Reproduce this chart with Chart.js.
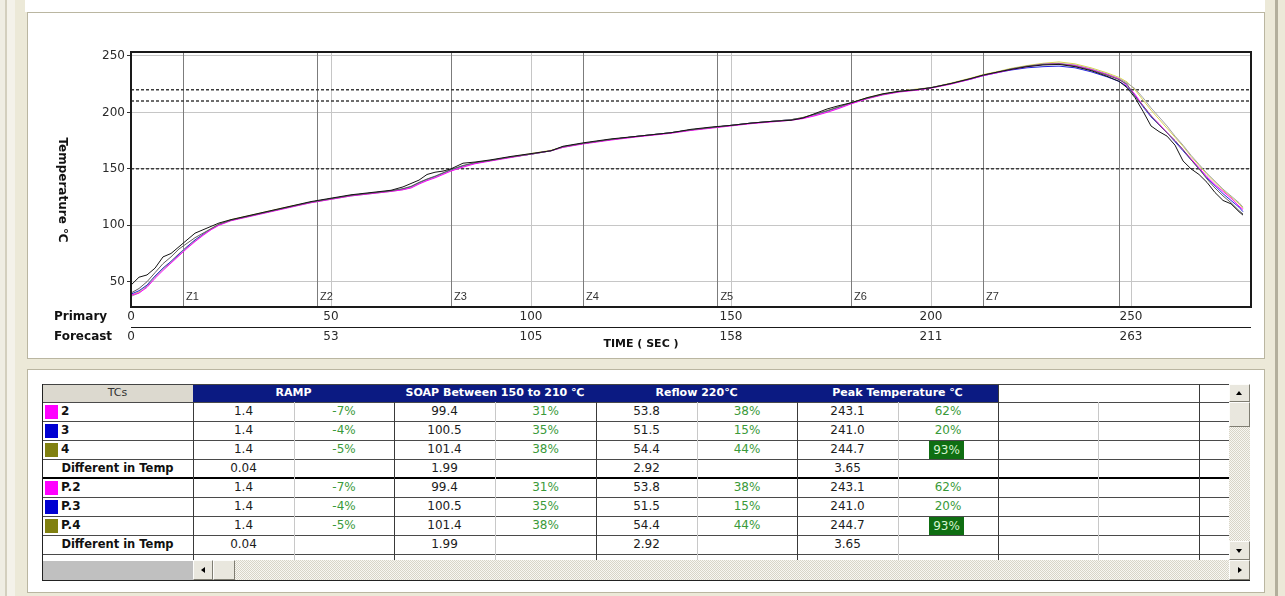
<!DOCTYPE html>
<html>
<head>
<meta charset="utf-8">
<title>Reflow profile</title>
<script src="https://cdn.jsdelivr.net/npm/chart.js"></script>
<style>
  body { margin: 0; width: 1285px; height: 596px; overflow: hidden; position: relative; background: #ece9d8; font-family: 'DejaVu Sans', Verdana, sans-serif; }
  .abs { position: absolute; box-sizing: border-box; }
  .panel { position: absolute; box-sizing: border-box; background: #fff; border: 1px solid #bab6a1; }
  #profile { position: absolute; left: 27px; top: 12px; }
  .cell { position: absolute; box-sizing: border-box; height: 19px; line-height: 19px; font-size: 12px; color: #1c1c1c; text-align: center; white-space: nowrap; overflow: hidden; }
  .btn { position: absolute; box-sizing: border-box; background: #e9e7de; border: 1px solid; border-color: #fdfdfb #7f7d72 #7f7d72 #fdfdfb; }
  .track { position: absolute; background: repeating-conic-gradient(#d8d5c8 0 25%, #f8f7f2 0 50%) 0 0 / 2px 2px; }
</style>
</head>
<body>
<div class="abs" style="left:0;top:0;width:5px;height:596px;background:#efede3"></div>
<div class="abs" style="left:5px;top:0;width:2px;height:596px;background:#d3cfbe"></div>
<div class="abs" style="left:7px;top:0;width:8px;height:596px;background:#f4f2ea"></div>
<div class="abs" style="left:25px;top:0;width:1240px;height:12px;background:#fff"></div>
<div class="abs" style="left:1275px;top:0;width:3px;height:596px;background:#b3af9c"></div>
<div class="panel" style="left:27px;top:12px;width:1238px;height:347px"></div>
<div class="panel" style="left:27px;top:369px;width:1238px;height:224px"></div>
<canvas id="profile" width="1238" height="347"></canvas>
<script>
// time axis (s) shared by every probe trace
const secs = [0,2,4,6,8,10,12,14,16,18,20,22,25,30,35,40,45,50,55,60,65,68,70,72,74,76,78,80,83,86,90,95,100,105,108,113,120,127,135,140,145,150,155,160,165,168,171,174,177,180,184,188,192,196,200,205,210,213,217,220,224,228,232,236,240,244,247,249,251,253,255,257,259,261,263,265,267,269,271,273,275,277,278];

// measured probes
const tc2 = [38,40,45,53,60,66.5,73,79.5,85.5,91,96,100,
  104,108,112,116,120,123,126,128,130,
  131.5,133,136.5,139.5,142,145,148,
  151.5,154.5,157,160,163,166,169,172,
  175.5,178.5,181.5,184,186,188,190,191.5,193,
  194.5,197,200,203.5,207.5,212,215.5,218,219.5,221.5,
  225,229.5,232.5,235.5,238,240.5,242.5,243,241.5,238,
  233.5,229.5,224,216,206,197,190,182,175,167,
  159,151,143,136,130,124,117,114];
const tc3 = [39,42,47,55,62,68,74.5,81,87,92,96.5,100.5,
  104.5,108.5,112.5,116.5,120.5,123.5,126.5,128.5,130.5,
  132,134,137.5,140.5,143,146,149,
  152.5,155,157.5,160.5,163,166,169.5,172.5,
  176,179,182,184.5,186.5,188.5,190.5,192,193.5,
  195,198,201,204.5,208,212.5,216,218.5,220,221.8,
  225.5,229.5,232.5,235.5,237.5,239.5,240.5,241,239.5,236,
  231.5,227.5,223,215,205,196,189,182,174,166,
  158,150,142,135,128,122,116,112];
const tc4 = [38,41,47,55,62,68,75,81,87,92,97,101,
  105,109,113,117,120.5,123.5,126.5,128.5,130.5,
  132,134,137.5,140.5,143,146,149,
  152.5,155.5,157.5,160.5,163.5,166.5,169.5,172.5,
  176,179,182,184.5,186.5,188.5,190.5,192,193.5,
  195.5,198.5,201.5,205,208.5,213,216.5,218.7,220.5,222,
  226,230.5,233.5,236.5,239,241.5,243.5,244.7,243,239.5,
  235,231,227,220,211,202,194,186,178,170,
  161,153,145,138,131,125,119,115];

// predicted probes
const p2 = [37,40,46,54,61,67,73.5,80,86,91.5,96.5,100.5,
  104.5,108.5,112.5,116.5,120,123,126,128,130,
  131.5,133.5,137,140,142.5,145.5,148.5,
  152,155,157.5,160.5,163,166,169,172.5,
  176,179,182,184.5,186.5,188.5,190.5,192,193.5,
  195,197.5,200.5,204,208,212.5,216,218.5,220,221.8,
  225.5,230,233,236,238.5,241,243,243.5,242,238.5,
  234,230,226,221,213,204,196,188,179,171,
  162,154,146,139,132,126,120,116];
const p3 = [40,44,50,58,66,72,79,84,89,93,97,101,
  104.5,108.5,112.5,116.5,120.5,123.5,126.5,128.5,130.5,
  132.5,134.5,138,141,143.5,146.5,149.5,
  153,155.5,157.5,160.5,163,166,169.5,172.5,
  176,179,182,184.5,186.5,188.5,190.5,192,193.5,
  195.5,198.5,201.5,205,208.5,212.5,216,218.5,220,222,
  225.5,230,233,236,238.5,241,242.5,243,241,237.5,
  233,229,225,214,206,197,189,182,175,167,
  158,150,141,133,126,120,113,110];
const p4 = [47,54,56,62,72,75,81,87,93,96,99,102,
  105,109,113,117,121,124,127,129,131,
  134,137,140,145,147,148,150,
  155,156,158,161,163.5,166,170,173,
  176.5,179,182,185,187,188.5,190.5,192,193,
  195,199,203,206,208.5,213,216.5,218.7,220,221.8,
  225.6,230,233,236,238,240.5,242,242.5,240.5,237,
  232,227.5,222,213,201,188,183,179,171,157,
  150,145,138,129,122,119,112,109];

const tempTicks = [50, 100, 150, 200, 250];
const primaryTicks = [0, 50, 100, 150, 200, 250];
const forecastTicks = [0, 53, 105, 158, 211, 263];
const zoneSecs = [13, 46.5, 80, 113, 146.6, 180, 213, 247];
const zoneNames = ['Z1', 'Z2', 'Z3', 'Z4', 'Z5', 'Z6', 'Z7'];
const limitTemps = [150, 210, 220];

// summary table
const tcNames = ['2', '3', '4', 'Different in Temp', 'P.2', 'P.3', 'P.4', 'Different in Temp'];
const groupNames = ['RAMP', 'SOAP Between 150 to 210 ℃', 'Reflow 220℃', 'Peak Temperature ℃'];
const rampRate = ['1.4', '1.4', '1.4', '0.04', '1.4', '1.4', '1.4', '0.04'];
const rampPct = ['-7%', '-4%', '-5%', '', '-7%', '-4%', '-5%', ''];
const soakTime = ['99.4', '100.5', '101.4', '1.99', '99.4', '100.5', '101.4', '1.99'];
const soakPct = ['31%', '35%', '38%', '', '31%', '35%', '38%', ''];
const reflowTime = ['53.8', '51.5', '54.4', '2.92', '53.8', '51.5', '54.4', '2.92'];
const reflowPct = ['38%', '15%', '44%', '', '38%', '15%', '44%', ''];
const peakTemp = ['243.1', '241.0', '244.7', '3.65', '243.1', '241.0', '244.7', '3.65'];
const peakPct = ['62%', '20%', '93%', '', '62%', '20%', '93%', ''];

const swatch = { '2': '#ff00ff', '3': '#0000d2', '4': '#808010' };

// drawn first = on top
const series = [
  { label: 'P.4', data: p4, color: '#141414' },
  { label: 'P.3', data: p3, color: '#5e5e5e' },
  { label: '2', data: tc2, color: '#ff00ff' },
  { label: 'P.2', data: p2, color: '#a2a2a2' },
  { label: '3', data: tc3, color: '#2424e0' },
  { label: '4', data: tc4, color: '#d8d450' }
];

const profileDecor = {
  id: 'profileDecor',
  beforeDatasetsDraw(chart) {
    const { ctx, chartArea: a, scales: { x, y } } = chart;
    ctx.save();
    ctx.strokeStyle = '#7c7c7c';
    ctx.lineWidth = 1;
    zoneSecs.forEach(s => {
      const px = Math.round(x.getPixelForValue(s)) + 0.5;
      ctx.beginPath(); ctx.moveTo(px, a.top); ctx.lineTo(px, a.bottom); ctx.stroke();
    });
    ctx.fillStyle = '#333';
    ctx.font = '11px Arial';
    ctx.textBaseline = 'middle';
    zoneNames.forEach((n, i) => ctx.fillText(n, x.getPixelForValue(zoneSecs[i]) + 3, a.bottom - 10));
    ctx.strokeStyle = '#3c3c3c';
    ctx.lineWidth = 1.5;
    ctx.setLineDash([3, 2]);
    limitTemps.forEach(t => {
      const py = y.getPixelForValue(t);
      ctx.beginPath(); ctx.moveTo(a.left, py); ctx.lineTo(a.right, py); ctx.stroke();
    });
    ctx.restore();
  },
  afterDraw(chart) {
    const { ctx, chartArea: a } = chart;
    ctx.save();
    ctx.strokeStyle = '#1a1a1a';
    ctx.lineWidth = 2;
    ctx.strokeRect(a.left, a.top, a.right - a.left, a.bottom - a.top);
    ctx.lineWidth = 1;
    ctx.beginPath(); ctx.moveTo(a.left, a.bottom + 20.5); ctx.lineTo(a.right, a.bottom + 20.5); ctx.stroke();
    ctx.fillStyle = '#111';
    ctx.font = 'bold 12px "DejaVu Sans"';
    ctx.textBaseline = 'middle';
    ctx.textAlign = 'left';
    ctx.fillText('Primary', 27, a.bottom + 10);
    ctx.fillText('Forecast', 27, a.bottom + 30);
    ctx.font = 'bold 11px "DejaVu Sans"';
    ctx.textAlign = 'center';
    ctx.fillText('TIME ( SEC )', 614, a.bottom + 37);
    ctx.font = 'bold 12px "DejaVu Sans"';
    ctx.translate(35, 178);
    ctx.rotate(Math.PI / 2);
    ctx.fillText('Temperature ℃', 0, 0);
    ctx.restore();
  }
};

Chart.defaults.font.family = "'DejaVu Sans', Verdana, sans-serif";

new Chart(document.getElementById('profile'), {
  type: 'line',
  data: {
    datasets: series.map(s => ({
      label: s.label,
      data: secs.map((t, i) => ({ x: t, y: s.data[i] })),
      borderColor: s.color,
      borderWidth: 1,
      pointRadius: 0,
      tension: 0,
      fill: false
    }))
  },
  options: {
    responsive: false,
    animation: false,
    devicePixelRatio: 1,
    layout: { padding: { left: 0, top: 40, right: 14, bottom: 0 } },
    plugins: { legend: { display: false }, tooltip: { enabled: false } },
    scales: {
      x: {
        type: 'linear', min: 0, max: 280,
        afterBuildTicks: ax => { ax.ticks = primaryTicks.map(v => ({ value: v })); },
        afterFit: ax => { ax.height = 52; },
        grid: { color: '#c6c6c6', drawTicks: false },
        border: { display: false },
        ticks: {
          padding: 0, maxRotation: 0, autoSkip: false, color: '#2a2a2a',
          font: { size: 12, lineHeight: 20 / 12 },
          callback: (v, i) => [String(primaryTicks[i]), String(forecastTicks[i])]
        }
      },
      y: {
        type: 'linear', min: 27.6, max: 253.5,
        afterBuildTicks: ax => { ax.ticks = tempTicks.map(v => ({ value: v })); },
        afterFit: ax => { ax.width = 104; },
        grid: { color: '#c6c6c6', tickColor: '#333', tickLength: 4 },
        border: { display: false },
        ticks: { padding: 2, color: '#2a2a2a', font: { size: 12 } }
      }
    }
  },
  plugins: [profileDecor]
});

// ---- summary grid ----
const colEdges = [42, 193, 294, 394, 495, 596, 697, 797, 898, 998, 1098, 1199, 1229];
const rowEdges = [384, 402, 421, 440, 459, 478, 497, 516, 535, 554];

function box(x, y, w, h, css, text, cls) {
  const d = document.createElement('div');
  d.className = cls || 'abs';
  Object.assign(d.style, { left: x + 'px', top: y + 'px', width: w + 'px', height: h + 'px' }, css || {});
  if (text !== undefined) d.textContent = text;
  document.body.appendChild(d);
  return d;
}

box(42, 384, 151, 18, { background: '#dcd9cf', font: '11px/18px "DejaVu Sans"', textAlign: 'center', color: '#333' }, 'TCs');
groupNames.forEach((g, k) => {
  const x0 = colEdges[1 + 2 * k], x1 = colEdges[3 + 2 * k];
  box(x0, 384, x1 - x0, 18, { background: '#0b1a82', color: '#fff', font: 'bold 11px/18px "DejaVu Sans"', textAlign: 'center', whiteSpace: 'nowrap' }, g);
});

const cols = [rampRate, rampPct, soakTime, soakPct, reflowTime, reflowPct, peakTemp, peakPct];
tcNames.forEach((name, r) => {
  const top = rowEdges[r + 1];
  if (name.startsWith('Different')) {
    box(42, top, 151, 19, { font: 'bold 11.5px/19px "DejaVu Sans"', color: '#111' }, name, 'cell');
  } else {
    box(45, top + 3, 13, 14, { background: swatch[name.slice(-1)] });
    box(61, top, 120, 19, { font: 'bold 12px/19px "DejaVu Sans"', color: '#111', textAlign: 'left' }, name, 'cell');
  }
  cols.forEach((c, j) => {
    const x0 = colEdges[j + 1], w = colEdges[j + 2] - x0;
    const isPct = j % 2 === 1;
    const val = c[r];
    if (isPct && val && parseFloat(val) >= 90) {
      box(x0 + 31, top + 1, 35, 18, { background: '#0f6e12', color: '#d6f5d0', lineHeight: '18px' }, val, 'cell');
    } else {
      box(x0, top, w, 19, { color: isPct ? '#3a9a3a' : '#1c1c1c' }, val, 'cell');
    }
  });
});

// rules
box(42, 384, 1187, 1, { background: '#444' });
rowEdges.slice(1).forEach(yv => {
  if (yv === 478) box(42, 477, 1187, 2, { background: '#000' });
  else box(42, yv, 1187, 1, { background: '#4a4a4a' });
});
[1, 3, 5, 7, 9, 11].forEach(i => box(colEdges[i], i >= 9 ? 384 : 402, 1, i >= 9 ? 176 : 158, { background: '#3a3a3a' }));
[2, 4, 6, 8, 10].forEach(i => box(colEdges[i], 402, 1, 158, { background: '#c8c8c8' }));
box(42, 384, 1, 197, { background: '#222' });
box(42, 580, 1208, 1, { background: '#222' });

// scrollbars
box(43, 561, 150, 19, { background: '#c0c0c0' });
box(235, 560, 994, 20, {}, undefined, 'track');
box(1229, 402, 21, 158, {}, undefined, 'track');
box(193, 560, 20, 20, {}, undefined, 'btn');
box(213, 560, 22, 20, {}, undefined, 'btn');
box(1229, 560, 21, 20, {}, undefined, 'btn');
box(1229, 384, 21, 18, {}, undefined, 'btn');
box(1229, 402, 21, 25, {}, undefined, 'btn');
box(1229, 541, 21, 19, {}, undefined, 'btn');
// arrow glyphs
box(201, 567, 0, 0, { borderTop: '3px solid transparent', borderBottom: '3px solid transparent', borderRight: '4px solid #000' });
box(1238, 567, 0, 0, { borderTop: '3px solid transparent', borderBottom: '3px solid transparent', borderLeft: '4px solid #000' });
box(1236, 391, 0, 0, { borderLeft: '3px solid transparent', borderRight: '3px solid transparent', borderBottom: '4px solid #000' });
box(1236, 549, 0, 0, { borderLeft: '3px solid transparent', borderRight: '3px solid transparent', borderTop: '4px solid #000' });
</script>
</body>
</html>
